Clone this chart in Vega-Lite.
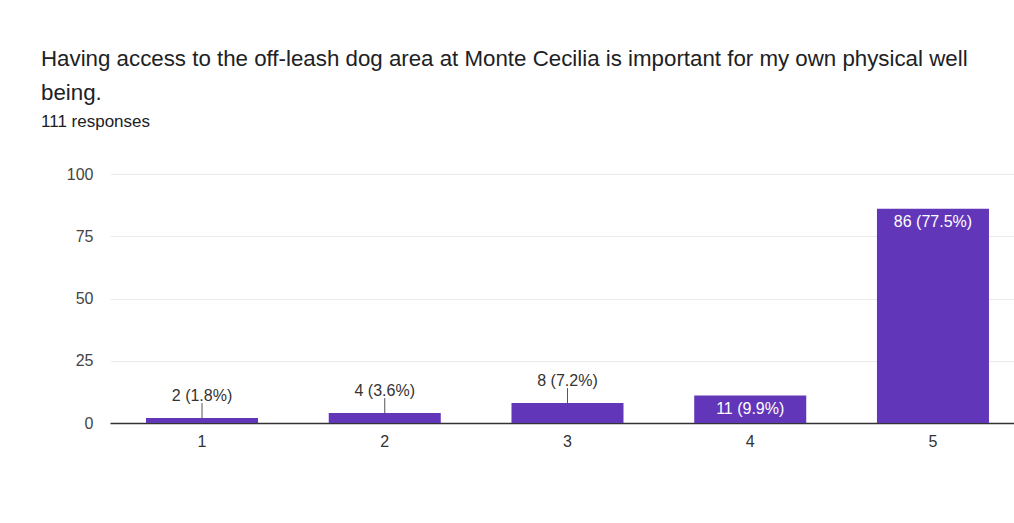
{
  "$schema": "https://vega.github.io/schema/vega-lite/v6.json",
  "width": 904,
  "height": 249,
  "autosize": "none",
  "padding": {"left": 110, "top": 174, "right": 0, "bottom": 100},
  "background": "white",
  "title": {
    "text": ["Having access to the off-leash dog area at Monte Cecilia is important for my own physical well", "being."],
    "subtitle": "111 responses",
    "anchor": "start",
    "frame": "group",
    "dx": -69,
    "offset": 36,
    "font": "Liberation Sans",
    "fontSize": 22.3,
    "fontWeight": "normal",
    "color": "#202124",
    "lineHeight": 34,
    "subtitleFont": "Liberation Sans",
    "subtitleFontSize": 17,
    "subtitleColor": "#202124",
    "subtitlePadding": 10
  },
  "data": {
    "values": [
      {"rating": "1", "count": 2, "label": "2 (1.8%)"},
      {"rating": "2", "count": 4, "label": "4 (3.6%)"},
      {"rating": "3", "count": 8, "label": "8 (7.2%)"},
      {"rating": "4", "count": 11, "label": "11 (9.9%)"},
      {"rating": "5", "count": 86, "label": "86 (77.5%)"}
    ]
  },
  "encoding": {
    "x": {
      "field": "rating",
      "type": "nominal",
      "sort": null,
      "scale": {"paddingInner": 0.387, "paddingOuter": 0.167, "align": 0.59},
      "axis": {
        "title": null,
        "labelAngle": 0,
        "labelFont": "Liberation Sans",
        "labelFontSize": 16,
        "labelColor": "#333333",
        "labelPadding": 10,
        "ticks": false,
        "domain": true,
        "domainColor": "#333333",
        "domainWidth": 1.5,
        "grid": false
      }
    },
    "y": {
      "field": "count",
      "type": "quantitative",
      "scale": {"domain": [0, 100]},
      "axis": {
        "title": null,
        "values": [0, 25, 50, 75, 100],
        "labelFont": "Liberation Sans",
        "labelFontSize": 16,
        "labelColor": "#444444",
        "labelPadding": 17,
        "ticks": false,
        "domain": false,
        "grid": true,
        "gridColor": "#ebebeb",
        "gridWidth": 1
      }
    }
  },
  "layer": [
    {"mark": {"type": "bar", "color": "#6236b8"}},
    {
      "transform": [{"filter": "datum.count < 10"}],
      "mark": {"type": "rule", "color": "#555555", "strokeWidth": 1, "y2Offset": -15},
      "encoding": {"y2": {"field": "count"}}
    },
    {
      "transform": [{"filter": "datum.count < 10"}],
      "mark": {"type": "text", "font": "Liberation Sans", "fontSize": 16, "color": "#333333", "baseline": "alphabetic", "dy": -17},
      "encoding": {"text": {"field": "label"}}
    },
    {
      "transform": [{"filter": "datum.count >= 10"}],
      "mark": {"type": "text", "font": "Liberation Sans", "fontSize": 16, "color": "#ffffff", "baseline": "top", "dy": 5},
      "encoding": {"text": {"field": "label"}}
    }
  ],
  "config": {"view": {"stroke": null}}
}
